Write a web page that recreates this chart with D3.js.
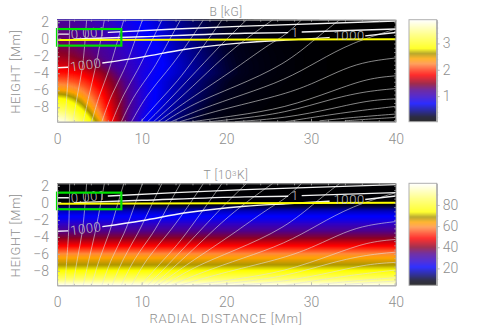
<!DOCTYPE html>
<html><head><meta charset="utf-8">
<script src="https://cdn.jsdelivr.net/npm/d3@7"></script>
<style>html,body{margin:0;padding:0;background:#fff}svg{display:block}
text{font-family:Roboto,"Liberation Sans",sans-serif;font-weight:300;fill:#8f8f8f}</style></head>
<body><svg id="c" width="491" height="327"></svg>
<script>
// ---- data ----
const radii=[0,1,2,3,4,5,6,7,8,9,10,11,12,14,16,18,20,23,26,30,35,40];
const heights=[2.3,1,0,-1,-2,-3,-4,-5,-6,-7,-8,-9,-9.7];
const bField=[
[1.20,1.19,1.17,1.14,1.10,1.05,1.00,.93,.85,.78,.72,.68,.63,.50,.39,.29,.21,.13,.08,.05,.03,.03],
[1.28,1.27,1.24,1.20,1.16,1.11,1.05,.98,.90,.82,.76,.71,.66,.53,.41,.31,.23,.14,.09,.05,.03,.03],
[1.33,1.32,1.29,1.25,1.20,1.15,1.09,1.02,.94,.86,.79,.74,.69,.56,.44,.33,.24,.15,.09,.05,.03,.03],
[1.42,1.40,1.36,1.31,1.26,1.20,1.13,1.06,.98,.90,.83,.77,.72,.58,.46,.35,.26,.16,.10,.05,.03,.03],
[1.55,1.52,1.47,1.40,1.33,1.26,1.18,1.10,1.02,.94,.86,.80,.75,.61,.48,.37,.27,.17,.11,.05,.04,.03],
[1.70,1.68,1.63,1.55,1.46,1.36,1.26,1.16,1.07,.98,.90,.83,.77,.63,.50,.38,.28,.18,.11,.05,.04,.03],
[1.88,1.87,1.84,1.78,1.68,1.57,1.43,1.28,1.15,1.02,.88,.80,.74,.62,.51,.39,.29,.18,.11,.05,.04,.03],
[2.15,2.13,2.08,2.00,1.88,1.72,1.56,1.40,1.25,1.08,.90,.78,.70,.57,.45,.34,.25,.15,.09,.05,.03,.03],
[2.45,2.42,2.34,2.22,2.06,1.87,1.66,1.47,1.30,1.12,.93,.79,.70,.55,.43,.32,.23,.13,.08,.05,.03,.03],
[2.85,2.80,2.66,2.46,2.24,2.00,1.75,1.53,1.33,1.14,.94,.79,.69,.53,.40,.29,.20,.11,.07,.04,.03,.03],
[3.20,3.12,2.95,2.72,2.44,2.13,1.83,1.58,1.35,1.14,.93,.77,.67,.49,.36,.25,.17,.10,.06,.04,.03,.03],
[3.60,3.50,3.28,3.00,2.68,2.32,1.93,1.62,1.35,1.12,.88,.72,.63,.45,.31,.21,.14,.08,.05,.04,.03,.03],
[3.85,3.75,3.50,3.20,2.85,2.50,2.00,1.65,1.35,1.10,.85,.68,.60,.41,.28,.18,.12,.08,.05,.04,.03,.03]];
const tempRadii=[0,40];
const tempHeights=[2.3,0.3,0,-0.3,-1,-2,-3,-4,-5,-6,-6.5,-7.2,-8,-9,-9.7];
const tempProfile=[4.5,5,6,9,18,24,32,39,48,59,64,68,74,86,99];
const fieldLines=[
[[.94,-9.7],[1.2,-6],[1.4,-3.6],[1.5,2.3]],
[[1.9,-9.7],[2.4,-6.5],[3,-3.6],[3.25,-1],[3.5,2.3]],
[[3.1,-9.7],[3.8,-6.5],[4.5,-3.6],[5,-1],[5.6,2.3]],
[[4.1,-9.7],[5,-6.5],[6.2,-3.6],[6.9,-1],[7.9,2.3]],
[[5.3,-9.7],[6.4,-6.5],[8,-3.6],[8.9,-1],[10.1,2.3]],
[[6.5,-9.7],[7.8,-6.5],[9.6,-3.6],[10.8,-1],[12.4,2.3]],
[[7.6,-9.7],[9.1,-6.5],[11.4,-3.6],[12.75,-1],[14.6,2.3]],
[[8.8,-9.7],[10.6,-6.5],[13,-3.8],[15.1,-1],[17.3,2.3]],
[[9.9,-9.7],[12.2,-7.1],[14.2,-5],[16.3,-2.2],[19.5,2.3]],
[[10.7,-9.7],[12.75,-7.7],[17.9,-2.2],[20,0],[22.4,2.3]],
[[11.4,-9.7],[12.75,-8.5],[16,-5.6],[19.5,-2.2],[22.5,.2],[25.5,2.3]],
[[12,-9.7],[12.75,-9.1],[16,-6.8],[20.6,-3.8],[25,-.6],[26.9,.4],[28.9,2.3]],
[[12.7,-9.7],[16,-7.6],[21,-5.6],[26.9,-3],[30.8,.3],[33.4,2.3]],
[[13.5,-9.7],[17,-8.2],[22,-6.5],[26.9,-4.8],[30.8,-2.6],[34.8,-.4],[40,1.2]],
[[14.5,-9.7],[20,-8.1],[26.9,-6.5],[30.5,-5.1],[34,-3.4],[36.7,-2.6],[40,-2.2]],
[[16,-9.7],[21,-9],[26.9,-8.1],[32.8,-6],[36.7,-4.6],[40,-4.3]],
[[18,-9.7],[21,-9.4],[26.9,-8.7],[32.8,-6.9],[36.7,-6.1],[40,-5.8]],
[[21,-9.7],[26.9,-9.3],[32.8,-8.1],[36.7,-7.2],[40,-7]],
[[27,-9.7],[29.5,-9.3],[34.8,-8.5],[40,-7.9]],
[[31,-9.6],[34.8,-9.2],[40,-8.8]],
[[34,-9.6],[36.7,-9.4],[40,-9.2]]];
const tauSegments=[
[[0,.6],[1.4,.6]],
[[6,.8],[14,1.2],[22.2,1.55],[40,2.15]],
[[0,-.02],[.5,-.02]],
[[2,.02],[10,.3],[22.2,.7],[27.3,.78]],
[[28.9,.85],[40,1.2]],
[[0,-3.35],[1.3,-3.3]],
[[5.35,-2.8],[10,-2.1],[15,-1.2],[22.2,-.4],[27,-.1],[32.2,.2]],
[[36.4,.4],[40,.8]]];
const tauLabels=[["0.001",3.7,.75,-5],["1000",3.4,-3,-8],["1",28.1,.85,0],["1000",34.5,.45,0]];
const yellowLine=[[0,-.1],[40,0]];
const greenBox=[0,7.6,1.2,-.75];
const cmapStops=[0,.05,.1,.18,.245,.31,.375,.46,.52,.57,.62,.67,.72,.85,1];
const cmapColors=["#000000","#00001e","#000078","#0000ff","#3000c8","#500090","#8c0028","#ff0000","#ff4a20","#ff8c3c","#ffa500","#aa9600","#ffff00","#ffff6e","#ffffff"];
const xTicks=[0,10,20,30,40], xMinor=[2,4,6,8,12,14,16,18,22,24,26,28,32,34,36,38];
const yTicks=[2,0,-2,-4,-6,-8];
const bBarTicks=[1,2,3], tBarTicks=[20,40,60,80];
// ---- layout ----
const svg=d3.select("#c");
const x=d3.scaleLinear().domain([0,40]).range([57,395.7]);
const cmap=d3.scaleLinear().domain(cmapStops).range(cmapColors);
let clipN=0;
function panel(top,grid,gridR,gridZ,vmin,vmax,title,barTicks,barMinor,showX){
  const h=102, y=d3.scaleLinear().domain([2.3,-9.7]).range([top,top+h]);
  const g=svg.append("g");
  const id="clip"+(clipN++);
  svg.append("clipPath").attr("id",id).append("rect").attr("x",x(0)).attr("y",top).attr("width",x(40)-x(0)).attr("height",h);
  const norm=d3.scaleLinear().domain([vmin,vmax]).range([0,1]);
  const color=v=>cmap(norm(v));
  const plot=g.append("g").attr("clip-path",`url(#${id})`);
  plot.append("rect").attr("x",x(0)).attr("y",top).attr("width",x(40)-x(0)).attr("height",h).attr("fill",color(vmin));
  const n=gridR.length,m=gridZ.length;
  const ix=d3.scaleLinear().domain(gridR.map((d,i)=>i+.5)).range(gridR).clamp(true);
  const iz=d3.scaleLinear().domain(gridZ.map((d,i)=>i+.5)).range(gridZ).clamp(true);
  const path=d3.geoPath(d3.geoTransform({point(a,b){this.stream.point(x(ix(a)),y(iz(b)));}}));
  const thresholds=d3.range(0,241).map(i=>vmin+(vmax-vmin)*i/240);
  const cs=d3.contours().size([n,m]).thresholds(thresholds).smooth(true)(grid.flat());
  plot.selectAll("path.f").data(cs).join("path").attr("class","f").attr("d",path)
    .attr("fill",d=>color(d.value)).attr("stroke",d=>color(d.value)).attr("stroke-width",.3);
  // lines
  const ln=d3.line().x(d=>x(d[0])).y(d=>y(d[1]));
  const smooth=d3.line().x(d=>x(d[0])).y(d=>y(d[1])).curve(d3.curveMonotoneX);
  plot.selectAll("path.fl").data(fieldLines).join("path").attr("class","fl").attr("d",d3.line().x(d=>x(d[0])).y(d=>y(d[1])).curve(d3.curveBasis))
    .attr("fill","none").attr("stroke","#e0e0e0").attr("stroke-opacity",.7).attr("stroke-width",.85);
  plot.selectAll("path.tau").data(tauSegments).join("path").attr("class","tau").attr("d",smooth)
    .attr("fill","none").attr("stroke","#fff").attr("stroke-width",1.4).attr("stroke-opacity",.95);
  plot.append("path").datum(yellowLine).attr("d",ln).attr("fill","none").attr("stroke","#ffff00").attr("stroke-width",2);
  plot.selectAll("text.tl").data(tauLabels).join("text").attr("class","tl")
    .attr("transform",d=>`translate(${x(d[1])},${y(d[2])}) rotate(${d[3]})`)
    .attr("text-anchor","middle").attr("dy","0.36em").style("font-size","13px").style("letter-spacing","0.6px").style("fill","#c4c4c4").text(d=>d[0]);
  g.append("rect").attr("x",x(greenBox[0])).attr("y",y(greenBox[2])).attr("width",x(greenBox[1])-x(greenBox[0])).attr("height",y(greenBox[3])-y(greenBox[2]))
    .attr("fill","none").attr("stroke","#00e000").attr("stroke-width",2.2);
  // axes
  const ax=(sel)=>sel.call(s=>s.select(".domain").attr("stroke","#b0b0b0").attr("stroke-width",1))
     .call(s=>s.selectAll("line").attr("stroke","#b0b0b0").attr("stroke-width",.8))
     .call(s=>s.selectAll("text").style("font-size","14px").style("fill","#8f8f8f"));
  g.append("g").attr("transform",`translate(0,${top+h})`).call(d3.axisBottom(x).tickValues(xTicks).tickSizeInner(-3).tickSizeOuter(0).tickPadding(12).tickFormat(d3.format("d"))).call(ax);
  g.append("g").attr("transform",`translate(0,${top+h})`).call(d3.axisBottom(x).tickValues(xMinor).tickSizeInner(-1.5).tickSizeOuter(0).tickFormat("")).call(ax);
  g.append("g").attr("transform",`translate(0,${top})`).call(d3.axisTop(x).tickValues(xTicks.concat(xMinor)).tickSizeInner(-2).tickSizeOuter(0).tickFormat("")).call(ax);
  const yMinor=d3.range(-9.5,2.3,.5);
  g.append("g").attr("transform",`translate(${x(0)},0)`).call(d3.axisLeft(y).tickValues(yTicks).tickSizeInner(-3).tickSizeOuter(0).tickPadding(8).tickFormat(d=>String(d).replace("-","\u2212"))).call(ax);
  g.append("g").attr("transform",`translate(${x(0)},0)`).call(d3.axisLeft(y).tickValues(yMinor).tickSizeInner(-1.5).tickSizeOuter(0).tickFormat("")).call(ax);
  g.append("g").attr("transform",`translate(${x(40)},0)`).call(d3.axisRight(y).tickValues(yMinor).tickSizeInner(-1.5).tickSizeOuter(0).tickFormat("")).call(ax);
  // title
  g.append("text").attr("x",226).attr("y",top-4).attr("text-anchor","middle").style("font-size","12px").style("letter-spacing","0.5px").html(title);
  g.append("text").attr("transform",`translate(20,${top+h/2+1}) rotate(-90)`).attr("text-anchor","middle").style("font-size","13px").style("letter-spacing","0.6px").text("HEIGHT [Mm]");
  if(showX) g.append("text").attr("x",226).attr("y",top+h+37.5).attr("text-anchor","middle").style("font-size","13px").style("letter-spacing","0.7px").text("RADIAL DISTANCE [Mm]");
  // colour bar
  const by=d3.scaleLinear().domain([vmin,vmax]).range([top+h,top]);
  const steps=d3.range(0,h).map(i=>vmin+(vmax-vmin)*(i+.5)/h);
  g.selectAll("rect.b").data(steps).join("rect").attr("class","b").attr("x",409).attr("width",27.7)
    .attr("y",d=>by(d)-.5).attr("height",1.05).attr("fill",d=>color(d));
  g.append("rect").attr("x",409).attr("y",top).attr("width",27.7).attr("height",h).attr("fill","none").attr("stroke","#b0b0b0");
  g.append("g").attr("transform",`translate(436.7,0)`).call(d3.axisRight(by).tickValues(barTicks).tickSizeInner(3).tickSizeOuter(0).tickPadding(3).tickFormat(d3.format("d"))).call(ax);
  g.append("g").attr("transform",`translate(436.7,0)`).call(d3.axisRight(by).tickValues(barMinor).tickSizeInner(1.5).tickSizeOuter(0).tickFormat("")).call(ax);
}
panel(19.7,bField,radii,heights,.03,3.9,"B  [kG]",bBarTicks,d3.range(.2,3.9,.2),false);
const tGrid=tempProfile.map(v=>tempRadii.map(()=>v));
panel(183.3,tGrid,tempRadii,tempHeights,4,100.5,'T  [10<tspan dy="-3" style="font-size:8px">3</tspan><tspan dy="3">K]</tspan>',tBarTicks,d3.range(10,100,10),true);
</script></body></html>
